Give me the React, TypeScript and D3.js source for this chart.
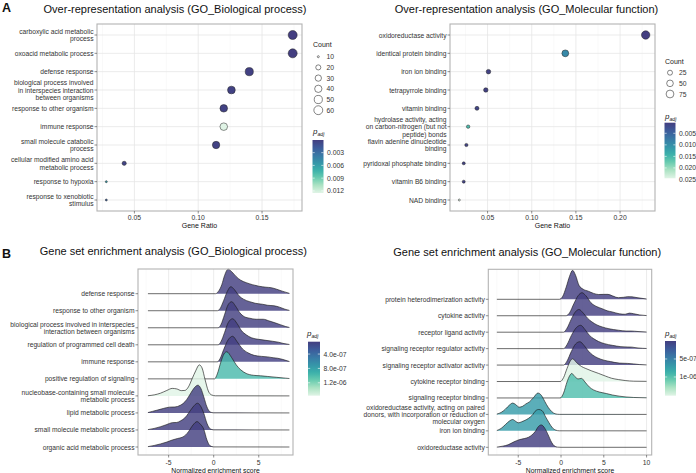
import React from "react";
import * as d3 from "d3";

const W = 696;
const H = 473;
const FONT = "'Liberation Sans', Arial, Helvetica, sans-serif";

// ---------- Panel A left: ORA GO Biological process ----------
const oraBpTerms = [
  ["carboxylic acid metabolic", "process"],
  ["oxoacid metabolic process"],
  ["defense response"],
  ["biological process involved", "in interspecies interaction", "between organisms"],
  ["response to other organism"],
  ["immune response"],
  ["small molecule catabolic", "process"],
  ["cellular modified amino acid", "metabolic process"],
  ["response to hypoxia"],
  ["response to xenobiotic", "stimulus"],
];
const oraBpRatio = [0.174, 0.174, 0.14, 0.126, 0.12, 0.12, 0.114, 0.042, 0.028, 0.028];
const oraBpCount = [62, 62, 50, 45, 43, 43, 41, 15, 10, 10];
const oraBpPadj = [0.00002, 0.00002, 0.0002, 0.0003, 0.0003, 0.0125, 0.0003, 0.0004, 0.0058, 0.0022];
const oraBpXTicks = [0.05, 0.1, 0.15];
const oraBpXLabels = ["0.05", "0.10", "0.15"];
const oraBpCountBreaks = [10, 20, 30, 40, 50, 60];
const oraBpPTicks = [0.003, 0.006, 0.009, 0.012];
const oraBpPLabels = ["0.003", "0.006", "0.009", "0.012"];

// ---------- Panel A right: ORA GO Molecular function ----------
const oraMfTerms = [
  ["oxidoreductase activity"],
  ["identical protein binding"],
  ["iron ion binding"],
  ["tetrapyrrole binding"],
  ["vitamin binding"],
  ["hydrolase activity, acting", "on carbon-nitrogen (but not", "peptide) bonds"],
  ["flavin adenine dinucleotide", "binding"],
  ["pyridoxal phosphate binding"],
  ["vitamin B6 binding"],
  ["NAD binding"],
];
const oraMfRatio = [0.229, 0.138, 0.051, 0.048, 0.038, 0.028, 0.026, 0.023, 0.023, 0.018];
const oraMfCount = [89, 54, 20, 19, 15, 11, 10, 9, 9, 7];
const oraMfPadj = [0.0004, 0.0093, 0.0009, 0.0008, 0.0012, 0.0155, 0.0011, 0.001, 0.001, 0.0245];
const oraMfXTicks = [0.05, 0.1, 0.15, 0.2];
const oraMfXLabels = ["0.05", "0.10", "0.15", "0.20"];
const oraMfCountBreaks = [25, 50, 75];
const oraMfPTicks = [0.005, 0.01, 0.015, 0.02, 0.025];
const oraMfPLabels = ["0.005", "0.010", "0.015", "0.020", "0.025"];

// ---------- Panel B left: GSEA GO Biological process ----------
const gseaBpTerms = [
  ["defense response"],
  ["response to other organism"],
  ["biological process involved in interspecies", "interaction between organisms"],
  ["regulation of programmed cell death"],
  ["immune response"],
  ["positive regulation of signaling"],
  ["nucleobase-containing small molecule", "metabolic process"],
  ["lipid metabolic process"],
  ["small molecule metabolic process"],
  ["organic acid metabolic process"],
];
const gseaBpPadj = [5.6e-8, 6e-8, 6e-8, 6.5e-8, 7e-8, 9.9e-7, 1.56e-6, 6e-8, 6e-8, 6e-8];
// ridge outlines: [NES, height in row units]
const gseaBpRidges = [
  [[-7.3, 0], [0.2, 0], [0.5, 0.12], [0.9, 0.53], [1.2, 1.06], [1.6, 1.44], [2.0, 1.29], [2.5, 1.0], [3.0, 0.79], [3.6, 0.65], [4.3, 0.53], [5.0, 0.44], [5.8, 0.38], [6.4, 0.35], [7.0, 0.26], [7.6, 0.15], [8.4, 0.02]],
  [[-7.3, 0], [0.4, 0], [0.7, 0.12], [1.1, 0.59], [1.5, 1.12], [1.9, 1.41], [2.3, 1.24], [2.8, 0.88], [3.3, 0.68], [4.0, 0.53], [4.6, 0.44], [5.4, 0.38], [6.0, 0.32], [6.7, 0.29], [7.3, 0.21], [7.9, 0.09], [8.4, 0.02]],
  [[-7.3, 0], [0.5, 0], [0.8, 0.18], [1.2, 0.76], [1.6, 1.35], [2.0, 1.53], [2.4, 1.29], [2.9, 0.88], [3.4, 0.65], [4.0, 0.56], [4.7, 0.5], [5.5, 0.5], [6.1, 0.41], [6.8, 0.29], [7.4, 0.18], [8.0, 0.07], [8.4, 0.02]],
  [[-7.3, 0], [0.5, 0], [0.8, 0.18], [1.2, 0.71], [1.6, 1.29], [2.1, 1.53], [2.6, 1.24], [3.1, 0.82], [3.6, 0.59], [4.2, 0.41], [5.0, 0.32], [5.8, 0.26], [6.5, 0.21], [7.2, 0.15], [7.8, 0.07], [8.4, 0.02]],
  [[-7.3, 0], [0.4, 0], [0.7, 0.18], [1.1, 0.71], [1.6, 1.29], [2.1, 1.5], [2.6, 1.18], [3.2, 0.76], [3.8, 0.53], [4.5, 0.38], [5.3, 0.32], [6.0, 0.29], [6.6, 0.24], [7.1, 0.21], [7.6, 0.15], [8.4, 0.02]],
  [[-7.3, 0], [0.1, 0], [0.4, 0.29], [0.8, 1.0], [1.15, 1.47], [1.45, 1.59], [2.0, 1.24], [2.5, 0.82], [3.0, 0.53], [3.6, 0.32], [4.4, 0.21], [5.2, 0.18], [6.0, 0.14], [7.0, 0.09], [8.0, 0.04], [8.4, 0.02]],
  [[-7.3, 0.01], [-6.6, 0.06], [-5.9, 0.16], [-5.2, 0.32], [-4.6, 0.44], [-4.1, 0.41], [-3.6, 0.31], [-3.2, 0.32], [-2.8, 0.53], [-2.4, 1.0], [-2.0, 1.47], [-1.6, 1.82], [-1.3, 1.65], [-0.95, 0.94], [-0.6, 0.29], [-0.25, 0.06], [0.2, 0.006], [8.4, 0]],
  [[-7.3, 0.02], [-6.8, 0.09], [-6.3, 0.16], [-5.6, 0.26], [-4.9, 0.34], [-4.3, 0.35], [-3.7, 0.45], [-3.2, 0.65], [-2.8, 0.94], [-2.4, 1.29], [-2.0, 1.56], [-1.75, 1.63], [-1.4, 1.41], [-1.1, 0.94], [-0.75, 0.35], [-0.4, 0.06], [0, 0.006], [8.4, 0]],
  [[-7.3, 0.02], [-6.6, 0.09], [-5.9, 0.19], [-5.2, 0.32], [-4.6, 0.43], [-4.1, 0.44], [-3.7, 0.53], [-3.2, 0.71], [-2.8, 0.98], [-2.3, 1.35], [-1.8, 1.57], [-1.4, 1.35], [-1.1, 0.98], [-0.75, 0.39], [-0.4, 0.07], [0, 0.006], [8.4, 0]],
  [[-7.3, 0.02], [-6.6, 0.09], [-5.9, 0.18], [-5.2, 0.29], [-4.6, 0.41], [-4.0, 0.5], [-3.5, 0.57], [-3.1, 0.71], [-2.8, 0.9], [-2.3, 1.29], [-1.85, 1.49], [-1.5, 1.35], [-1.1, 1.04], [-0.75, 0.41], [-0.4, 0.07], [0, 0.006], [8.4, 0]],
];
const gseaBpXTicks = [-5, 0, 5];
const gseaBpPTicks = [4e-7, 8e-7, 1.2e-6];
const gseaBpPLabels = ["4.0e-07", "8.0e-07", "1.2e-06"];

// ---------- Panel B right: GSEA GO Molecular function ----------
const gseaMfTerms = [
  ["protein heterodimerization activity"],
  ["cytokine activity"],
  ["receptor ligand activity"],
  ["signaling receptor regulator activity"],
  ["signaling receptor activator activity"],
  ["cytokine receptor binding"],
  ["signaling receptor binding"],
  ["oxidoreductase activity, acting on paired", "donors, with incorporation or reduction of", "molecular oxygen"],
  ["iron ion binding"],
  ["oxidoreductase activity"],
];
const gseaMfPadj = [1e-9, 1e-9, 1e-9, 1e-9, 1e-9, 1.52e-6, 9.7e-7, 7.1e-7, 7.1e-7, 1e-9];
const gseaMfRidges = [
  [[-7.5, 0], [-0.2, 0], [0.2, 0.18], [0.6, 0.73], [1.0, 1.4], [1.35, 1.76], [1.7, 1.46], [2.1, 0.85], [2.6, 0.61], [3.2, 0.49], [3.8, 0.36], [4.4, 0.29], [5.0, 0.3], [5.5, 0.3], [6.0, 0.21], [6.7, 0.1], [7.3, 0.12], [7.8, 0.16], [8.3, 0.15], [9.0, 0.09], [10.0, 0.02]],
  [[-7.5, 0], [0.6, 0], [1.0, 0.18], [1.5, 0.73], [2.0, 1.22], [2.45, 1.4], [2.9, 1.22], [3.5, 0.79], [4.2, 0.55], [4.8, 0.43], [5.4, 0.3], [6.0, 0.23], [6.8, 0.12], [7.5, 0.09], [8.0, 0.16], [8.5, 0.12], [9.2, 0.05], [10.0, 0.01]],
  [[-7.5, 0], [0.3, 0], [0.7, 0.24], [1.2, 0.79], [1.7, 1.25], [2.1, 1.38], [2.6, 1.16], [3.1, 0.85], [3.6, 0.63], [4.2, 0.44], [4.8, 0.32], [5.6, 0.21], [6.7, 0.12], [7.6, 0.07], [8.2, 0.07], [9.0, 0.04], [10.0, 0.01]],
  [[-7.5, 0], [0.3, 0], [0.7, 0.24], [1.2, 0.79], [1.8, 1.28], [2.3, 1.42], [2.8, 1.16], [3.3, 0.82], [3.8, 0.61], [4.4, 0.43], [5.1, 0.3], [6.0, 0.2], [7.0, 0.12], [7.8, 0.1], [8.3, 0.09], [9.0, 0.04], [10.0, 0.01]],
  [[-7.5, 0], [0.3, 0], [0.7, 0.24], [1.2, 0.82], [1.7, 1.28], [2.2, 1.42], [2.7, 1.19], [3.2, 0.85], [3.7, 0.61], [4.3, 0.43], [5.0, 0.3], [5.8, 0.21], [6.8, 0.12], [7.8, 0.1], [8.5, 0.07], [9.2, 0.03], [10.0, 0.01]],
  [[-7.5, 0], [-0.1, 0], [0.3, 0.24], [0.7, 0.79], [1.05, 1.22], [1.35, 1.38], [1.8, 1.16], [2.4, 0.91], [2.9, 0.79], [3.6, 0.64], [4.4, 0.49], [5.2, 0.33], [5.9, 0.2], [6.7, 0.12], [7.5, 0.06], [8.5, 0.02], [10.0, 0.01]],
  [[-7.5, 0], [-0.1, 0], [0.3, 0.3], [0.7, 0.97], [1.0, 1.34], [1.25, 1.49], [1.6, 1.31], [2.0, 1.16], [2.4, 1.19], [2.8, 0.97], [3.3, 0.67], [3.8, 0.49], [4.5, 0.36], [5.3, 0.27], [6.0, 0.18], [6.8, 0.11], [7.6, 0.06], [8.5, 0.03], [10.0, 0.01]],
  [[-7.5, 0.02], [-7.0, 0.12], [-6.5, 0.32], [-6.0, 0.58], [-5.65, 0.69], [-5.3, 0.6], [-4.9, 0.44], [-4.5, 0.49], [-4.1, 0.64], [-3.7, 0.76], [-3.2, 1.03], [-2.7, 1.3], [-2.3, 1.16], [-1.9, 0.79], [-1.5, 0.43], [-1.1, 0.18], [-0.7, 0.04], [-0.2, 0.003], [10.0, 0]],
  [[-7.5, 0.02], [-7.0, 0.15], [-6.5, 0.38], [-6.0, 0.61], [-5.65, 0.69], [-5.3, 0.58], [-5.0, 0.49], [-4.6, 0.55], [-4.2, 0.64], [-3.8, 0.76], [-3.4, 0.93], [-2.9, 1.25], [-2.6, 1.3], [-2.2, 1.22], [-1.8, 0.85], [-1.4, 0.49], [-1.0, 0.18], [-0.6, 0.04], [-0.2, 0.003], [10.0, 0]],
  [[-7.5, 0.01], [-6.8, 0.07], [-6.2, 0.15], [-5.5, 0.33], [-4.9, 0.46], [-4.3, 0.53], [-3.8, 0.61], [-3.4, 0.75], [-3.0, 0.97], [-2.65, 1.26], [-2.3, 1.36], [-1.9, 1.16], [-1.5, 0.75], [-1.1, 0.3], [-0.8, 0.09], [-0.4, 0.01], [0, 0], [10.0, 0]],
];
const gseaMfXTicks = [-5, 0, 5, 10];
const gseaMfPTicks = [5e-7, 1e-6];
const gseaMfPLabels = ["5e-07", "1e-06"];

// colour ramp for p.adjust (low = dark, high = light)
const palette = ["#433E80", "#3D5A9A", "#3978A6", "#3595A9", "#3BB1AA", "#6ACCB0", "#ADE3C4", "#E0F4E6"];
const ramp = d3.piecewise(d3.interpolateRgb, palette);

const TEXT = "#333333";

function TermLabel({ lines, x, y, size = 6.7, lh = 7.5 }) {
  const n = lines.length;
  return (
    <text x={x} y={y} textAnchor="end" fontSize={size} fill={TEXT} fontFamily={FONT}>
      {lines.map((l, i) => (
        <tspan key={i} x={x} y={y + (i - (n - 1) / 2) * lh} dominantBaseline="central">
          {l}
        </tspan>
      ))}
    </text>
  );
}

function PadjTitle({ x, y }) {
  return (
    <text x={x} y={y} fontSize={8} fontStyle="italic" fill="#222" fontFamily={FONT}>
      p
      <tspan fontSize={5.2} dy={1.6}>
        adj
      </tspan>
    </text>
  );
}

function ColorBar({ id, padj, x, y, w, h, ticks, labels }) {
  const ext = d3.extent(padj);
  const pos = d3.scaleLinear().domain(ext).range([y, y + h]);
  const stops = d3.range(0, 1.0001, 0.05);
  return (
    <g>
      <defs>
        <linearGradient id={id} x1="0" y1="0" x2="0" y2="1">
          {stops.map((t, i) => (
            <stop key={i} offset={t} stopColor={ramp(t)} />
          ))}
        </linearGradient>
      </defs>
      <rect x={x} y={y} width={w} height={h} fill={`url(#${id})`} />
      {ticks.map((t, i) => (
        <g key={i}>
          <line x1={x} x2={x + 2.2} y1={pos(t)} y2={pos(t)} stroke="#fff" strokeWidth={0.6} />
          <line x1={x + w - 2.2} x2={x + w} y1={pos(t)} y2={pos(t)} stroke="#fff" strokeWidth={0.6} />
          <text x={x + w + 3.5} y={pos(t)} dominantBaseline="central" fontSize={6.8} fill={TEXT} fontFamily={FONT}>
            {labels[i]}
          </text>
        </g>
      ))}
    </g>
  );
}

function minorTicks(major, domain) {
  const step = major[1] - major[0];
  const out = [];
  for (let v = major[0] - step * 10 + step / 2; v <= domain[1]; v += step) {
    if (v >= domain[0]) out.push(v);
  }
  return out;
}

function DotPanel(props) {
  const { id, title, terms, ratio, count, padj, box, xTicks, xLabels, rRange, countBreaks, leg, pTicks, pLabels } = props;
  const [a, b] = d3.extent(ratio);
  const pad = (b - a) * 0.05;
  const dom = [a - pad, b + pad];
  const x = d3.scaleLinear().domain(dom).range([box.l, box.r]);
  const y = d3.scalePoint().domain(d3.range(terms.length)).range([box.t, box.b]).padding(0.6);
  const [cmin, cmax] = d3.extent(count);
  const unit = d3.scaleLinear().domain([cmin, cmax]).range([0, 1]).clamp(true);
  const rad = (c) => rRange[0] + (rRange[1] - rRange[0]) * Math.sqrt(unit(c));
  const color = d3.scaleSequential(ramp).domain(d3.extent(padj));
  const minors = minorTicks(xTicks, dom);
  const order = d3.range(terms.length).sort((i, j) => count[j] - count[i]);
  return (
    <g>
      <text x={title.x} y={title.y} textAnchor="middle" fontSize={11} fill="#111" fontFamily={FONT}>
        {title.text}
      </text>
      <rect x={box.l} y={box.t} width={box.r - box.l} height={box.b - box.t} fill="#fff" />
      {minors.map((v, i) => (
        <line key={"m" + i} x1={x(v)} x2={x(v)} y1={box.t} y2={box.b} stroke="#f3f3f3" strokeWidth={0.5} />
      ))}
      {xTicks.map((v, i) => (
        <line key={"M" + i} x1={x(v)} x2={x(v)} y1={box.t} y2={box.b} stroke="#e6e6e6" strokeWidth={0.8} />
      ))}
      {terms.map((t, i) => (
        <line key={"h" + i} x1={box.l} x2={box.r} y1={y(i)} y2={y(i)} stroke="#e6e6e6" strokeWidth={0.8} />
      ))}
      {order.map((i) => (
        <circle key={"p" + i} cx={x(ratio[i])} cy={y(i)} r={rad(count[i])} fill={color(padj[i])} stroke="#222" strokeWidth={0.5} />
      ))}
      <rect x={box.l} y={box.t} width={box.r - box.l} height={box.b - box.t} fill="none" stroke="#b3b3b3" strokeWidth={1.1} />
      {terms.map((t, i) => (
        <g key={"y" + i}>
          <line x1={box.l - 2.5} x2={box.l} y1={y(i)} y2={y(i)} stroke="#444" strokeWidth={0.6} />
          <TermLabel lines={t} x={box.l - 3.5} y={y(i)} />
        </g>
      ))}
      {xTicks.map((v, i) => (
        <g key={"x" + i}>
          <line x1={x(v)} x2={x(v)} y1={box.b} y2={box.b + 2.5} stroke="#444" strokeWidth={0.6} />
          <text x={x(v)} y={box.b + 8.5} textAnchor="middle" fontSize={6.8} fill={TEXT} fontFamily={FONT}>
            {xLabels[i]}
          </text>
        </g>
      ))}
      <text x={(box.l + box.r) / 2} y={box.b + 16.5} textAnchor="middle" fontSize={7} fill="#111" fontFamily={FONT}>
        Gene Ratio
      </text>
      {/* legend: Count */}
      <text x={leg.x} y={leg.countY} fontSize={7} fill="#222" fontFamily={FONT}>
        Count
      </text>
      {countBreaks.map((c, i) => {
        const cy = leg.countY + leg.first + i * leg.step;
        return (
          <g key={"c" + i}>
            <circle cx={leg.cx} cy={cy} r={rad(c)} fill="none" stroke="#333" strokeWidth={0.6} />
            <text x={leg.lx} y={cy} dominantBaseline="central" fontSize={6.8} fill={TEXT} fontFamily={FONT}>
              {c}
            </text>
          </g>
        );
      })}
      <PadjTitle x={leg.x} y={leg.pY} />
      <ColorBar id={id} padj={padj} x={leg.barX} y={leg.barY} w={leg.barW} h={leg.barH} ticks={pTicks} labels={pLabels} />
    </g>
  );
}

function RidgePanel(props) {
  const { id, title, terms, ridges, padj, box, xDomain, yRange, xTicks, leg, pTicks, pLabels } = props;
  const x = d3.scaleLinear().domain(xDomain).range([box.l, box.r]);
  const y = d3.scalePoint().domain(d3.range(terms.length)).range(yRange);
  const step = y.step();
  const color = d3.scaleSequential(ramp).domain(d3.extent(padj));
  const minors = minorTicks(xTicks, xDomain);
  return (
    <g>
      <text x={title.x} y={title.y} textAnchor="middle" fontSize={11} fill="#111" fontFamily={FONT}>
        {title.text}
      </text>
      <rect x={box.l} y={box.t} width={box.r - box.l} height={box.b - box.t} fill="#fff" />
      {minors.map((v, i) => (
        <line key={"m" + i} x1={x(v)} x2={x(v)} y1={box.t} y2={box.b} stroke="#f3f3f3" strokeWidth={0.5} />
      ))}
      {xTicks.map((v, i) => (
        <line key={"M" + i} x1={x(v)} x2={x(v)} y1={box.t} y2={box.b} stroke="#e6e6e6" strokeWidth={0.8} />
      ))}
      {ridges.map((pts, i) => {
        const base = y(i);
        const area = d3
          .area()
          .x((d) => x(d[0]))
          .y0(base)
          .y1((d) => base - d[1] * step)
          .curve(d3.curveMonotoneX);
        const line = d3
          .line()
          .x((d) => x(d[0]))
          .y((d) => base - d[1] * step)
          .curve(d3.curveMonotoneX);
        return (
          <g key={"r" + i}>
            <path d={area(pts)} fill={color(padj[i])} fillOpacity={0.82} />
            <path d={line(pts)} fill="none" stroke="#1c1c1c" strokeWidth={0.65} />
          </g>
        );
      })}
      <rect x={box.l} y={box.t} width={box.r - box.l} height={box.b - box.t} fill="none" stroke="#b3b3b3" strokeWidth={1.1} />
      {terms.map((t, i) => (
        <g key={"y" + i}>
          <line x1={box.l - 2.5} x2={box.l} y1={y(i)} y2={y(i)} stroke="#444" strokeWidth={0.6} />
          <TermLabel lines={t} x={box.l - 3.5} y={y(i)} lh={7.3} />
        </g>
      ))}
      {xTicks.map((v, i) => (
        <g key={"x" + i}>
          <line x1={x(v)} x2={x(v)} y1={box.b} y2={box.b + 2.5} stroke="#444" strokeWidth={0.6} />
          <text x={x(v)} y={box.b + 10} textAnchor="middle" fontSize={6.8} fill={TEXT} fontFamily={FONT}>
            {String(v)}
          </text>
        </g>
      ))}
      <text x={(box.l + box.r) / 2} y={box.b + 17.5} textAnchor="middle" fontSize={6.8} fill="#111" fontFamily={FONT}>
        Normalized enrichment score
      </text>
      <PadjTitle x={leg.x} y={leg.pY} />
      <ColorBar id={id} padj={padj} x={leg.barX} y={leg.barY} w={leg.barW} h={leg.barH} ticks={pTicks} labels={pLabels} />
    </g>
  );
}

export default function App() {
  return (
    <svg width={W} height={H} viewBox={`0 0 ${W} ${H}`} style={{ position: "absolute", left: 0, top: 0, background: "#fff" }}>
      <rect x={0} y={0} width={W} height={H} fill="#fff" />
      <text x={2} y={11.5} fontSize={12.5} fontWeight="bold" fill="#111" fontFamily={FONT}>
        A
      </text>
      <text x={2} y={258} fontSize={12.5} fontWeight="bold" fill="#111" fontFamily={FONT}>
        B
      </text>
      <DotPanel
        id="cbA1"
        title={{ x: 175, y: 12.5, text: "Over-representation analysis (GO_Biological process)" }}
        terms={oraBpTerms}
        ratio={oraBpRatio}
        count={oraBpCount}
        padj={oraBpPadj}
        box={{ l: 97, r: 302, t: 24, b: 211 }}
        xTicks={oraBpXTicks}
        xLabels={oraBpXLabels}
        rRange={[1.0, 4.5]}
        countBreaks={oraBpCountBreaks}
        leg={{ x: 313, countY: 46.5, first: 10.2, step: 10.7, cx: 318.3, lx: 326.5, pY: 134, barX: 312.5, barY: 140, barW: 11, barH: 53 }}
        pTicks={oraBpPTicks}
        pLabels={oraBpPLabels}
      />
      <DotPanel
        id="cbA2"
        title={{ x: 526.5, y: 12.5, text: "Over-representation analysis (GO_Molecular function)" }}
        terms={oraMfTerms}
        ratio={oraMfRatio}
        count={oraMfCount}
        padj={oraMfPadj}
        box={{ l: 450, r: 655, t: 24, b: 211 }}
        xTicks={oraMfXTicks}
        xLabels={oraMfXLabels}
        rRange={[1.0, 4.2]}
        countBreaks={oraMfCountBreaks}
        leg={{ x: 665, countY: 63.5, first: 9.2, step: 10.65, cx: 670, lx: 679, pY: 119, barX: 664.5, barY: 122.7, barW: 11, barH: 55.6 }}
        pTicks={oraMfPTicks}
        pLabels={oraMfPLabels}
      />
      <RidgePanel
        id="cbB1"
        title={{ x: 173.3, y: 254.5, text: "Gene set enrichment analysis (GO_Biological process)" }}
        terms={gseaBpTerms}
        ridges={gseaBpRidges}
        padj={gseaBpPadj}
        box={{ l: 138, r: 293, t: 269, b: 455 }}
        xDomain={[-8.4, 8.8]}
        yRange={[293.7, 447]}
        xTicks={gseaBpXTicks}
        leg={{ x: 307, pY: 336, barX: 308, barY: 341.7, barW: 12, barH: 54 }}
        pTicks={gseaBpPTicks}
        pLabels={gseaBpPLabels}
      />
      <RidgePanel
        id="cbB2"
        title={{ x: 527.2, y: 256, text: "Gene set enrichment analysis (GO_Molecular function)" }}
        terms={gseaMfTerms}
        ridges={gseaMfRidges}
        padj={gseaMfPadj}
        box={{ l: 488.3, r: 651.7, t: 269.3, b: 455 }}
        xDomain={[-8.5, 10.6]}
        yRange={[299.3, 447.3]}
        xTicks={gseaMfXTicks}
        leg={{ x: 665, pY: 336, barX: 665, barY: 341, barW: 11, barH: 54.7 }}
        pTicks={gseaMfPTicks}
        pLabels={gseaMfPLabels}
      />
    </svg>
  );
}
